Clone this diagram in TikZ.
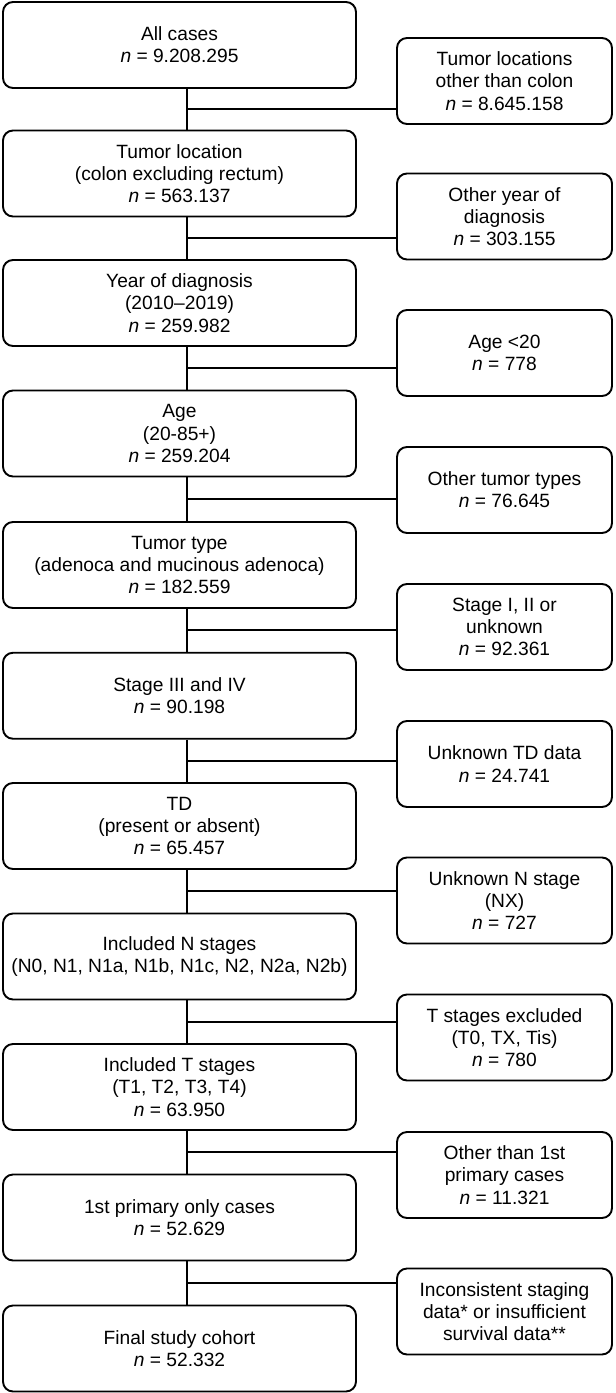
\documentclass[tikz,border=0pt]{standalone}
\usepackage{fontspec}
\setmainfont{Liberation Sans}
\usetikzlibrary{calc}
\newcommand{\nval}[1]{\textit{n} = #1}

\begin{document}
\begin{tikzpicture}[x=1pt,y=1pt,
  box/.style={draw,line width=1.9pt,rounded corners=10pt,align=center,
    font=\fontsize{19.2}{22.2}\selectfont,inner sep=2pt},
  mainbox/.style={box,minimum width=353pt,minimum height=86pt},
  exbox/.style={box,minimum width=215pt,minimum height=86pt},
  link/.style={line width=1.9pt}]
\useasboundingbox (0,0) rectangle (616,-1393);
% main column
\node[mainbox] (all)   at (179.5,-45)     {All cases\\\nval{9.208.295}};
\node[mainbox] (loc)   at (179.5,-173.5)  {Tumor location\\(colon excluding rectum)\\\nval{563.137}};
\node[mainbox] (year)  at (179.5,-303)    {Year of diagnosis\\(2010–2019)\\\nval{259.982}};
\node[mainbox] (age)   at (179.5,-433.5)  {Age\\(20-85+)\\\nval{259.204}};
\node[mainbox] (type)  at (179.5,-565)    {Tumor type\\(adenoca and mucinous adenoca)\\\nval{182.559}};
\node[mainbox] (stage) at (179.5,-695.75) {Stage III and IV\\\nval{90.198}};
\node[mainbox] (td)    at (179.5,-826)    {TD\\(present or absent)\\\nval{65.457}};
\node[mainbox] (nst)   at (179.5,-956.5)  {Included N stages\\(N0, N1, N1a, N1b, N1c, N2, N2a, N2b)};
\node[mainbox] (tst)   at (179.5,-1087)   {Included T stages\\(T1, T2, T3, T4)\\\nval{63.950}};
\node[mainbox] (prim)  at (179.5,-1217.5) {1st primary only cases\\\nval{52.629}};
\node[mainbox] (final) at (179.5,-1348.5) {Final study cohort\\\nval{52.332}};
% exclusions
\node[exbox] (exloc)   at (504.5,-81)     {Tumor locations\\other than colon\\\nval{8.645.158}};
\node[exbox] (exyear)  at (504.5,-216.5)  {Other year of\\diagnosis\\\nval{303.155}};
\node[exbox] (exage)   at (504.5,-353)    {Age <20\\\nval{778}};
\node[exbox] (extype)  at (504.5,-490)    {Other tumor types\\\nval{76.645}};
\node[exbox] (exstage) at (504.5,-627)    {Stage I, II or\\unknown\\\nval{92.361}};
\node[exbox] (extd)    at (504.5,-764)    {Unknown TD data\\\nval{24.741}};
\node[exbox] (exn)     at (504.5,-900.5)  {Unknown N stage\\(NX)\\\nval{727}};
\node[exbox] (ext)     at (504.5,-1037.5) {T stages excluded\\(T0, TX, Tis)\\\nval{780}};
\node[exbox] (exprim)  at (504.5,-1175)   {Other than 1st\\primary cases\\\nval{11.321}};
\node[exbox] (exstag)  at (504.5,-1311.5) {Inconsistent staging\\data* or insufficient\\survival data**};
% connectors
\foreach \a/\b/\e [count=\i] in {all/loc/exloc,loc/year/exyear,year/age/exage,
    age/type/extype,type/stage/exstage,stage/td/extd,td/nst/exn,
    nst/tst/ext,tst/prim/exprim,prim/final/exstag} {
  \draw[link] ([xshift=7.5pt]\a.south) -- ([xshift=7.5pt]\b.north);
  \coordinate (j\i) at ($([xshift=7.5pt]\a.south)!0.5!([xshift=7.5pt]\b.north)$);
  \draw[link] (j\i) -- (j\i -| \e.west);
}
\end{tikzpicture}
\end{document}
